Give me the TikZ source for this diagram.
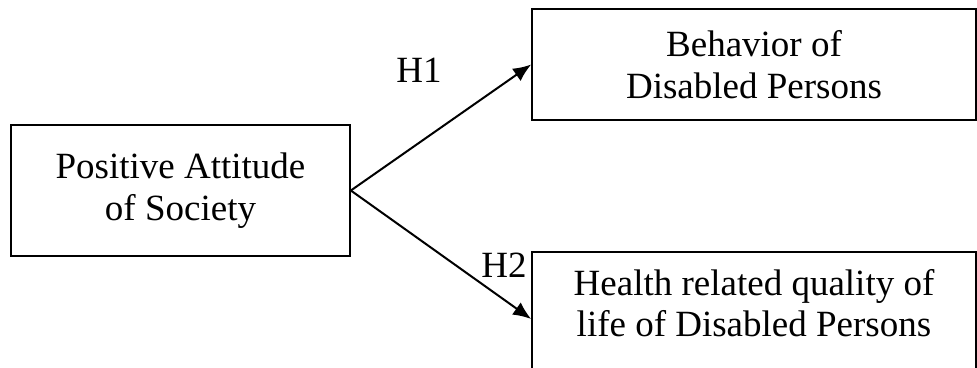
\documentclass[tikz,border=0pt]{standalone}
\usepackage{fontspec}
\setmainfont{Liberation Serif}
\usetikzlibrary{arrows.meta}
\begin{document}
\begin{tikzpicture}[x=1pt,y=-1pt,
  box/.style={draw,line width=1.7pt,inner sep=0pt,align=center,
    font=\fontsize{37}{41.7}\selectfont},
  txt/.style={inner sep=0pt,align=center,font=\fontsize{37}{41.7}\selectfont},
  conn/.style={line width=2pt,-{Latex[length=18pt,width=15pt]}},
  lab/.style={inner sep=0pt,font=\fontsize{37}{41.7}\selectfont}]
\useasboundingbox (0,0) rectangle (977,367);
\node[box,minimum width=339pt,minimum height=131pt] (pa) at (180.5,190.5) {Positive Attitude\\of Society};
\node[box,minimum width=444pt,minimum height=111pt] (bd) at (754,64.5) {Behavior of\\Disabled Persons};
\node[box,minimum width=444pt,minimum height=134pt] (hq) at (754,319) {};
\node[txt] (hqt) at (754,303) {Health related quality of\\life of Disabled Persons};
\draw[conn] (pa.east) -- (bd.west);
\draw[conn] (pa.east) -- (hq.west);
\node[lab] (h1) at (419,70) {H1};
\node[lab] (h2) at (504,265) {H2};
\end{tikzpicture}
\end{document}
